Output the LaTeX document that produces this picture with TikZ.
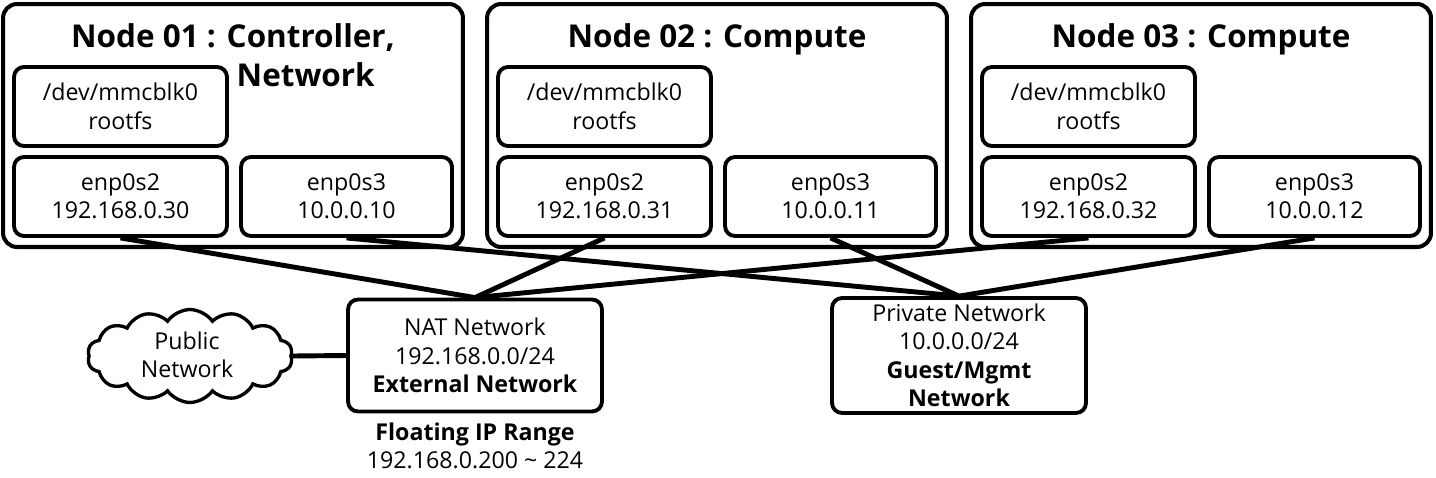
\documentclass[tikz,border=0pt]{standalone}
\usepackage{fontspec}
\setmainfont{Open Sans}
\usetikzlibrary{shapes.symbols}
\tikzset{
  nodebox/.style={draw, line width=2.3pt, rounded corners=0.28cm, minimum width=9.2cm, minimum height=4.86cm},
  partbox/.style={draw, line width=2.2pt, rounded corners=0.2cm, minimum width=4.26cm, minimum height=1.58cm, align=center, font=\fontsize{13.2}{16.2}\selectfont},
  netbox/.style={partbox, minimum width=5.08cm, minimum height=2.24cm},
  title/.style={anchor=north, align=left, font=\fontsize{17.9}{22.5}\selectfont\bfseries},
  plain/.style={align=center, font=\fontsize{13.2}{16.2}\selectfont},
  link/.style={line width=2.8pt}
}
\begin{document}
\begin{tikzpicture}[x=0.02cm,y=-0.02cm]
  \useasboundingbox (0,0) rectangle (1436,477);
  \foreach \n/\x/\ip/\priv in {01/0/30/10, 02/484/31/11, 03/968/32/12} {
    \node[nodebox] (node\n) at (\x+233,125.5) {};
    \node[partbox] (root\n) at (\x+120.5,106.5) {/dev/mmcblk0\\rootfs};
    \node[partbox] (enpa\n) at (\x+120.5,196.5) {enp0s2\\192.168.0.\ip};
    \node[partbox, minimum width=4.22cm] (enpb\n) at (\x+346.5,196.5) {enp0s3\\10.0.0.\priv};
  }
  \node[title] (title01) at (233,17) {Node 01 : Controller,\\\phantom{Node 01 : }\hspace*{0.2cm}Network};
  \node[title] (title02) at (717,17) {Node 02 : Compute};
  \node[title] (title03) at (1201,17) {Node 03 : Compute};
  % networks
  \node[netbox] (nat) at (475,355.5) {NAT Network\\192.168.0.0/24\\\textbf{External Network}};
  \node[netbox] (private) at (959,355.5) {Private Network\\10.0.0.0/24\\\textbf{Guest/Mgmt}\\\textbf{Network}};
  \node[plain] (floating) at (475,446) {\textbf{Floating IP Range}\\192.168.0.200 \textasciitilde{} 224};
  \node[draw, cloud, cloud puffs=14, cloud puff arc=110, aspect=2.2, line width=1.9pt, inner sep=0pt, minimum width=4.1cm, minimum height=1.86cm] (public) at (190,356) {};
  \node[plain] (publiclabel) at (187,355) {Public\\Network};
  % links
  \draw[link] (public.east) -- (nat.west);
  \foreach \n in {01,02,03} {
    \draw[link] (enpa\n.south) -- (nat.north);
    \draw[link] (enpb\n.south) -- (private.north);
  }
\end{tikzpicture}
\end{document}
